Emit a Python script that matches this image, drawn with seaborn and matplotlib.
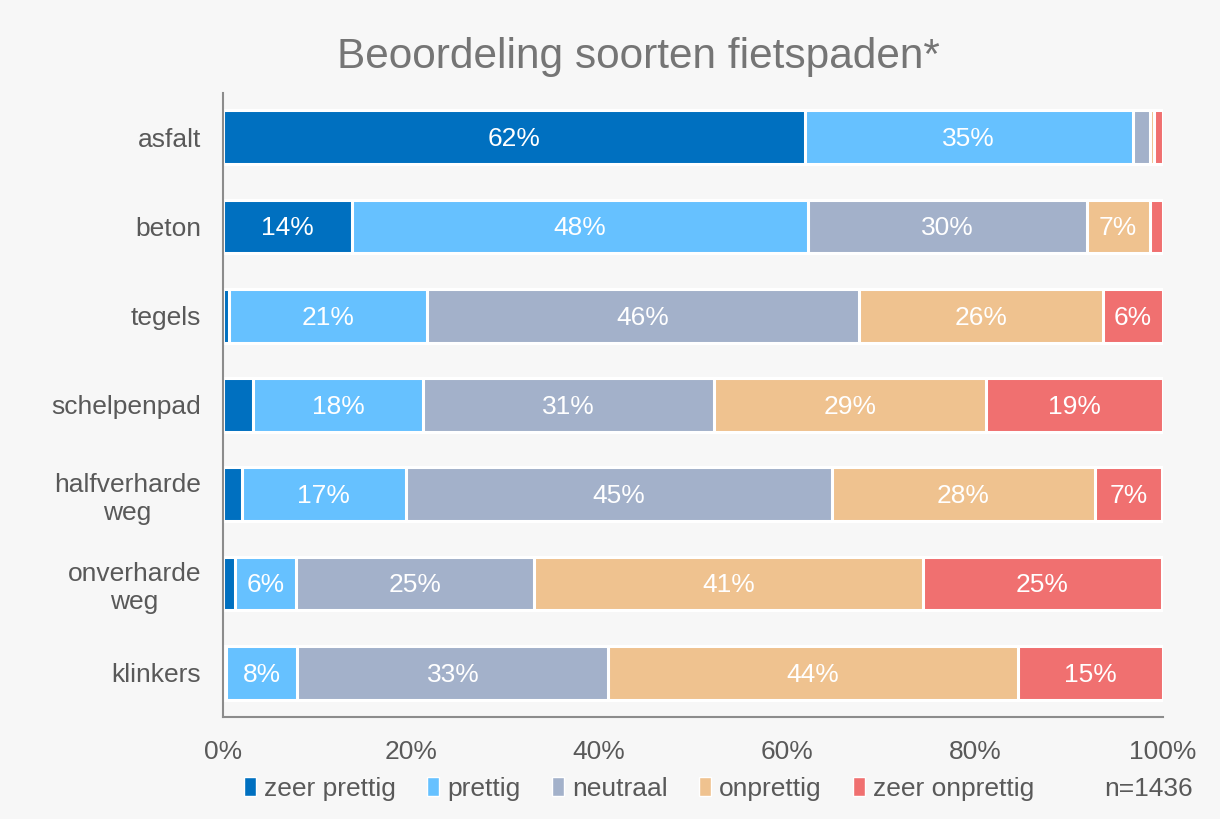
import numpy as np
import pandas as pd
import matplotlib
matplotlib.use("Agg")
import matplotlib.pyplot as plt
import seaborn as sns
from matplotlib.patches import Patch

categories = ["asfalt", "beton", "tegels", "schelpenpad", "halfverharde\nweg", "onverharde\nweg", "klinkers"]
series = ["zeer prettig", "prettig", "neutraal", "onprettig", "zeer onprettig"]
zeer_prettig = [61.9, 13.7, 0.6, 3.2, 2.0, 1.3, 0.3]
prettig = [34.9, 48.5, 21.1, 18.1, 17.4, 6.4, 7.6]
neutraal = [1.9, 29.7, 46.0, 30.9, 45.4, 25.4, 33.1]
onprettig = [0.4, 6.7, 25.9, 29.0, 28.0, 41.4, 43.6]
zeer_onprettig = [0.9, 1.4, 6.4, 18.8, 7.1, 25.4, 15.4]
colors = ["#0070C0", "#66C1FF", "#A3B1CA", "#EFC28F", "#F07070"]
n_text = "n=1436"
title = "Beoordeling soorten fietspaden*"

sns.set_theme(style="white")
plt.rcParams["font.family"] = ["Liberation Sans", "DejaVu Sans"]
bg = "#F7F7F7"
grey = "#595959"
fs = 19

values = np.array([zeer_prettig, prettig, neutraal, onprettig, zeer_onprettig])
cum = np.cumsum(values, axis=0)

fig = plt.figure(figsize=(12.2, 8.19), dpi=100, facecolor=bg)
ax = fig.add_axes([0.183, 0.124, 0.770, 0.763])
ax.set_facecolor(bg)

# stacked bars via overplotting cumulative sums (largest first)
for i in range(len(series) - 1, -1, -1):
    df = pd.DataFrame({"cat": categories, "val": cum[i]})
    sns.barplot(data=df, y="cat", x="val", orient="h", color=colors[i],
                saturation=1, width=0.6, edgecolor="white", linewidth=2.2,
                ax=ax, errorbar=None)

# labels
for i in range(len(series)):
    for j in range(len(categories)):
        v = values[i, j]
        if v >= 5.5:
            center = cum[i, j] - v / 2
            ax.text(center, j + 0.02, f"{round(v):.0f}%", ha="center", va="center",
                    color="white", fontsize=fs)

ax.set_xlim(0, 100)
ax.set_ylim(len(categories) - 0.5, -0.5)
ax.set_xticks([0, 20, 40, 60, 80, 100])
ax.set_xticklabels(["0%", "20%", "40%", "60%", "80%", "100%"])
ax.set_xlabel("")
ax.set_ylabel("")
ax.tick_params(axis="both", colors=grey, labelsize=fs, length=0)
ax.tick_params(axis="x", pad=16)
ax.tick_params(axis="y", pad=16)
for lab in ax.get_yticklabels():
    lab.set_horizontalalignment("right")
    lab.set_multialignment("center")
for s in ["top", "right"]:
    ax.spines[s].set_visible(False)
for s in ["left", "bottom"]:
    ax.spines[s].set_color("#8C8C8C")
    ax.spines[s].set_linewidth(1.5)

fig.text(0.523, 0.93, title, ha="center", va="center", fontsize=30.5, color="#757575")

handles = [Patch(facecolor=c, edgecolor="white", linewidth=1) for c in colors]
leg = fig.legend(handles, series, loc="center", bbox_to_anchor=(0.524, 0.037), ncol=5,
                 frameon=False, fontsize=fs, handlelength=0.45, handleheight=0.7,
                 handletextpad=0.3, columnspacing=1.2)
for t in leg.get_texts():
    t.set_color(grey)
fig.text(0.978, 0.037, n_text, ha="right", va="center", fontsize=fs, color=grey)

fig.savefig("out.png", dpi=100, facecolor=bg)
